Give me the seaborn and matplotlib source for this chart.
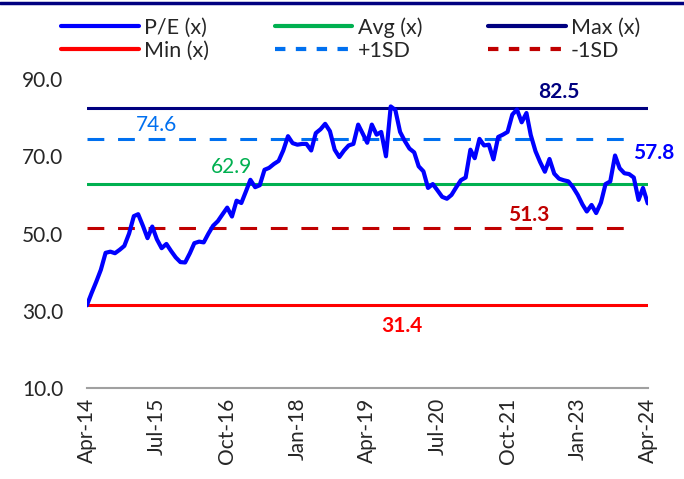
import matplotlib
matplotlib.use("Agg")
import matplotlib.pyplot as plt
from matplotlib.lines import Line2D
import seaborn as sns
import pandas as pd

# monthly P/E, Apr-14 .. Apr-24
pe_values = [
    31.4, 34.5, 37.5, 40.6, 45.0, 45.3, 44.9, 45.8, 46.8, 50.0,
    54.5, 55.0, 52.0, 48.8, 51.8, 48.5, 46.2, 47.3, 45.5, 43.8,
    42.6, 42.5, 44.9, 47.5, 47.9, 47.7, 50.0, 52.0, 53.2, 55.0,
    56.7, 54.4, 58.5, 57.9, 61.0, 63.9, 62.0, 62.5, 66.5, 67.0,
    68.0, 68.8, 71.5, 75.2, 73.4, 73.0, 73.2, 73.2, 71.5, 76.0,
    77.0, 78.4, 76.5, 71.7, 69.8, 71.5, 72.8, 73.2, 78.2, 76.0,
    73.5, 78.2, 75.6, 76.3, 70.0, 82.9, 82.0, 76.3, 74.0, 72.0,
    71.0, 67.4, 66.1, 61.8, 62.8, 61.2, 59.5, 59.0, 60.0, 62.0,
    63.8, 64.5, 71.7, 69.5, 74.5, 72.8, 73.0, 69.2, 75.0, 75.6,
    76.3, 80.8, 82.1, 78.8, 81.2, 75.5, 71.3, 68.5, 66.0, 69.3,
    65.5, 64.2, 63.8, 63.5, 62.0, 60.0, 57.5, 55.7, 57.4, 55.3,
    58.0, 62.8, 63.5, 70.2, 66.9, 65.6, 65.4, 64.5, 58.7, 61.8,
    57.8,
]
dates = pd.date_range("2014-04-01", periods=len(pe_values), freq="MS")

avg_val = 62.9
max_val = 82.5
min_val = 31.4
plus_sd = 74.6
minus_sd = 51.3

tick_labels = ["Apr-14", "Jul-15", "Oct-16", "Jan-18", "Apr-19",
               "Jul-20", "Oct-21", "Jan-23", "Apr-24"]
tick_dates = pd.date_range("2014-04-01", periods=len(tick_labels), freq="15MS")

df = pd.DataFrame({"date": dates, "pe": pe_values})

sns.set_style("white")
plt.rcParams["font.family"] = ["Lato", "DejaVu Sans"]

fig = plt.figure(figsize=(6.84, 4.79), dpi=100)
ax = fig.add_axes([0.127, 0.19, 0.82, 0.645])

c_pe = "#0000FF"
c_avg = "#00B050"
c_max = "#000080"
c_min = "#FF0000"
c_psd = "#0070F0"
c_msd = "#C00000"

ax.axhline(max_val, color=c_max, lw=2.2, zorder=2)
ax.axhline(plus_sd, xmax=0.98, color=c_psd, lw=2.2, ls=(0, (5.5, 4.5)), zorder=2)
ax.axhline(avg_val, color=c_avg, lw=2.2, zorder=2)
ax.axhline(minus_sd, xmax=0.98, color=c_msd, lw=2.2, ls=(0, (5.5, 4.5)), zorder=2)
ax.axhline(min_val, color=c_min, lw=2.2, zorder=2)

sns.lineplot(data=df, x="date", y="pe", ax=ax, color=c_pe, lw=3.0, zorder=3)

ax.set_xlim(dates[0], dates[-1])
ax.set_ylim(10, 90)
ax.set_yticks([10, 30, 50, 70, 90])
ax.set_yticklabels([f"{v:.1f}" for v in [10, 30, 50, 70, 90]], fontsize=15)
ax.set_xticks(tick_dates)
ax.set_xticklabels(tick_labels, rotation=90, fontsize=15)
ax.tick_params(axis="y", length=0, pad=17)
ax.tick_params(axis="x", length=0, pad=7)
ax.set_xlabel("")
ax.set_ylabel("")

for s in ["top", "right", "left"]:
    ax.spines[s].set_visible(False)
ax.spines["bottom"].set_color("#A0A0A0")
ax.spines["bottom"].set_linewidth(1.5)

def at(month):
    return dates[0] + pd.Timedelta(days=month * 30.44)

ax.text(at(15), 75.6, "74.6", color=c_psd, fontsize=15, ha="center", va="bottom")
ax.text(at(31), 64.6, "62.9", color=c_avg, fontsize=15, ha="center", va="bottom")
ax.text(at(101), 84.0, "82.5", color=c_max, fontsize=15, fontweight="bold", ha="center", va="bottom")
ax.text(at(121.3), 70.8, "57.8", color=c_pe, fontsize=15, fontweight="bold", ha="center", va="center")
ax.text(at(94.5), 52.3, "51.3", color=c_msd, fontsize=15, fontweight="bold", ha="center", va="bottom")
ax.text(at(67.5), 26.0, "31.4", color=c_min, fontsize=15, fontweight="bold", ha="center", va="center")

# top rule
fig.add_artist(Line2D([0, 1], [0.993, 0.993], color="#000080", lw=2.5, transform=fig.transFigure))

handles = [
    Line2D([], [], color=c_pe, lw=3),
    Line2D([], [], color=c_min, lw=3),
    Line2D([], [], color=c_avg, lw=3),
    Line2D([], [], color=c_psd, lw=3, ls=(0, (2.5, 2.5))),
    Line2D([], [], color=c_max, lw=3),
    Line2D([], [], color=c_msd, lw=3, ls=(0, (2.5, 2.5))),
]
labels = ["P/E (x)", "Min (x)", "Avg (x)", "+1SD", "Max (x)", "-1SD"]
fig.legend(handles, labels, ncol=3, loc="upper left", bbox_to_anchor=(0.0615, 1.005),
           frameon=False, fontsize=15.5, handlelength=3.6, handletextpad=0.25,
           columnspacing=3.05, labelspacing=0.15)

fig.savefig("out.png", dpi=100)
